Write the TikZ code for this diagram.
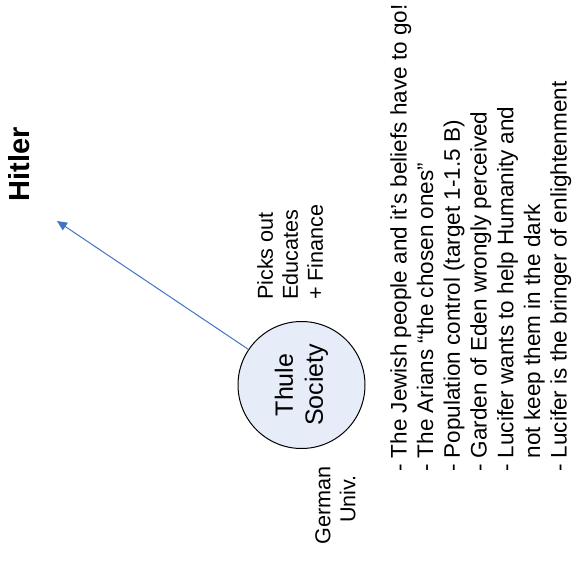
\documentclass[tikz,border=0pt]{standalone}
\usepackage{fontspec}
\setmainfont{Liberation Sans}
\usetikzlibrary{positioning,arrows.meta}
\definecolor{LinkBlue}{RGB}{68,114,196}
\definecolor{CircleFill}{RGB}{230,236,248}
\tikzset{
  flow/.style={-{Triangle[length=10pt,width=9pt]},line width=1pt,draw=LinkBlue},
  sidelabel/.style={rotate=90,inner sep=0pt,align=left,
    font=\fontsize{21.6}{25}\selectfont},
  listlabel/.style={rotate=90,inner sep=0pt,align=left,
    font=\fontsize{22.5}{26.7}\selectfont},
  society/.style={circle,draw=black,line width=1pt,fill=CircleFill,
    minimum size=127pt,inner sep=0pt,rotate=90,align=center,
    font=\fontsize{25}{30}\selectfont},
  title/.style={rotate=90,inner sep=0pt,font=\fontsize{29}{34}\selectfont\bfseries}
}

\begin{document}
\begin{tikzpicture}[x=1pt,y=-1pt]
  \useasboundingbox (0,0) rectangle (576,562);
  \node[title,anchor=north] (hitler) at (8,164) {Hitler};
  \node[society] (thule) at (301.5,385) {Thule\\Society};
  \node[sidelabel,anchor=north west] (picks) at (257,300) {Picks out\\Educates\\+ Finance};
  \node[sidelabel,align=center,anchor=north] (univ) at (315,505) {German\\\hspace*{12pt}Univ.};
  \node[listlabel,anchor=north west] (beliefs) at (390,472)
    {- The Jewish people and it’s beliefs have to go!\\
     - The Arians “the chosen ones”\\
     - Population control (target 1-1.5 B)\\
     - Garden of Eden wrongly perceived\\
     - Lucifer wants to help Humanity and\\
     \hphantom{- }not keep them in the dark\\
     - Lucifer is the bringer of enlightenment};
  \coordinate (tip) at (57,221);
  \draw[flow] (thule) -- (tip);
\end{tikzpicture}
\end{document}
